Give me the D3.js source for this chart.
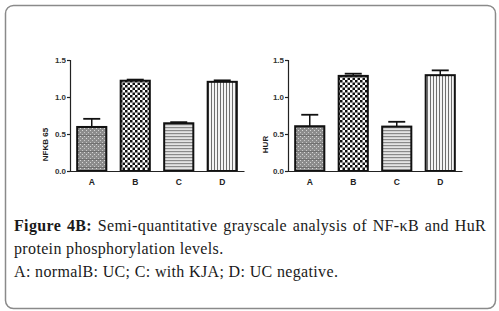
<!DOCTYPE html>
<html>
<head>
<meta charset="utf-8">
<script src="https://cdn.jsdelivr.net/npm/d3@7"></script>
<style>
  body { margin: 0; background: #fff; }
  svg { display: block; }
</style>
</head>
<body>
<div id="chart"></div>
<script>
// Data
const categories = ["A", "B", "C", "D"];
const nfkbMean = [0.595, 1.22, 0.645, 1.205];
const nfkbErr = [0.11, 0.015, 0.015, 0.02];
const hurMean = [0.605, 1.285, 0.6, 1.295];
const hurErr = [0.155, 0.03, 0.065, 0.065];
const yTicks = [0, 0.5, 1.0, 1.5];
const patterns = ["patA", "patB", "patC", "patD"];

const captionBold = "Figure 4B:";
const captionLine1 = " Semi-quantitative grayscale analysis of NF-\u03baB and HuR";
const captionLine2 = "protein phosphorylation levels.";
const captionLine3 = "A: normalB: UC; C: with KJA; D: UC negative.";

const width = 499, height = 311;

const svg = d3.select("#chart").append("svg")
    .attr("width", width)
    .attr("height", height);

// Fill patterns (Prism style hatches)
const defs = svg.append("defs");

// A: gray with fine dots and horizontal bands
const pA = defs.append("pattern").attr("id", "patA")
    .attr("patternUnits", "userSpaceOnUse").attr("width", 4).attr("height", 8);
pA.append("rect").attr("width", 4).attr("height", 8).attr("fill", "#8c8c8c");
pA.append("rect").attr("x", 0).attr("y", 0).attr("width", 1).attr("height", 1).attr("fill", "#d8d8d8");
pA.append("rect").attr("x", 2).attr("y", 2).attr("width", 1).attr("height", 1).attr("fill", "#d8d8d8");
pA.append("rect").attr("x", 0).attr("y", 4).attr("width", 1).attr("height", 1).attr("fill", "#c8c8c8");
pA.append("rect").attr("x", 2).attr("y", 6).attr("width", 1).attr("height", 1).attr("fill", "#c8c8c8");
pA.append("rect").attr("x", 0).attr("y", 7).attr("width", 4).attr("height", 1).attr("fill", "#707070");

// B: black/white checkerboard
const pB = defs.append("pattern").attr("id", "patB")
    .attr("patternUnits", "userSpaceOnUse").attr("width", 5).attr("height", 5);
pB.append("rect").attr("width", 5).attr("height", 5).attr("fill", "#fff");
pB.append("rect").attr("width", 2.5).attr("height", 2.5).attr("fill", "#111");
pB.append("rect").attr("x", 2.5).attr("y", 2.5).attr("width", 2.5).attr("height", 2.5).attr("fill", "#111");

// C: horizontal lines
const pC = defs.append("pattern").attr("id", "patC")
    .attr("patternUnits", "userSpaceOnUse").attr("width", 4).attr("height", 3);
pC.append("rect").attr("width", 4).attr("height", 3).attr("fill", "#e4e4e4");
pC.append("rect").attr("y", 1).attr("width", 4).attr("height", 1.2).attr("fill", "#8a8a8a");

// D: vertical lines
const pD = defs.append("pattern").attr("id", "patD")
    .attr("patternUnits", "userSpaceOnUse").attr("width", 3).attr("height", 4);
pD.append("rect").attr("width", 3).attr("height", 4).attr("fill", "#f4f4f4");
pD.append("rect").attr("x", 1).attr("width", 1).attr("height", 4).attr("fill", "#6e6e6e");

// Outer rounded frame
svg.append("rect")
    .attr("x", 5.5).attr("y", 5.5)
    .attr("width", 490).attr("height", 303)
    .attr("rx", 8).attr("ry", 8)
    .attr("fill", "#fff")
    .attr("stroke", "#8a8a8a")
    .attr("stroke-width", 1.5);

function drawPanel({ left, top, bottom, label, labelX, means, errs }) {
    const x = d3.scaleBand()
        .domain(categories)
        .range([left, left + 174])
        .paddingInner(0.33)
        .paddingOuter(0.165);

    const y = d3.scaleLinear()
        .domain([0, 1.5])
        .range([bottom, top]);

    const g = svg.append("g");

    const data = categories.map((c, i) => ({ cat: c, mean: means[i], err: errs[i], pat: patterns[i] }));

    // Error bars (only the upper half is visible above the bar)
    const eb = g.selectAll(".err").data(data).enter().append("g").attr("class", "err");
    const capW = 17;
    eb.append("line")
        .attr("x1", d => x(d.cat) + x.bandwidth() / 2)
        .attr("x2", d => x(d.cat) + x.bandwidth() / 2)
        .attr("y1", d => y(d.mean))
        .attr("y2", d => y(d.mean + d.err))
        .attr("stroke", "#111")
        .attr("stroke-width", 1.5);
    eb.append("line")
        .attr("x1", d => x(d.cat) + x.bandwidth() / 2 - capW / 2)
        .attr("x2", d => x(d.cat) + x.bandwidth() / 2 + capW / 2)
        .attr("y1", d => y(d.mean + d.err))
        .attr("y2", d => y(d.mean + d.err))
        .attr("stroke", "#111")
        .attr("stroke-width", 1.8);

    // Bars
    g.selectAll(".bar").data(data).enter().append("rect")
        .attr("class", "bar")
        .attr("x", d => x(d.cat))
        .attr("width", x.bandwidth())
        .attr("y", d => y(d.mean))
        .attr("height", d => y(0) - y(d.mean))
        .attr("fill", d => `url(#${d.pat})`)
        .attr("stroke", "#111")
        .attr("stroke-width", 2);

    // Y axis
    const yAxis = g.append("g")
        .attr("transform", `translate(${left},0)`)
        .call(d3.axisLeft(y).tickValues(yTicks).tickFormat(d3.format(".1f")).tickSize(3).tickPadding(1));
    yAxis.select(".domain").attr("stroke", "#222").attr("stroke-width", 1.2);
    yAxis.selectAll(".tick line").attr("stroke", "#222").attr("stroke-width", 1.2);
    yAxis.selectAll(".tick text")
        .attr("font-family", "Liberation Sans, Arial, sans-serif")
        .attr("font-size", 8)
        .attr("font-weight", "bold")
        .attr("fill", "#333");

    // X axis (no ticks)
    const xAxis = g.append("g")
        .attr("transform", `translate(0,${bottom})`)
        .call(d3.axisBottom(x).tickSize(0).tickPadding(8));
    xAxis.select(".domain").attr("stroke", "#222").attr("stroke-width", 1.2);
    xAxis.selectAll(".tick text")
        .attr("font-family", "Liberation Sans, Arial, sans-serif")
        .attr("font-size", 8.5)
        .attr("font-weight", "bold")
        .attr("fill", "#222");

    // Y label
    g.append("text")
        .attr("transform", `translate(${labelX},${(top + bottom) / 2 + 29})rotate(-90)`)
        .attr("text-anchor", "middle")
        .attr("font-family", "Liberation Sans, Arial, sans-serif")
        .attr("font-size", 8)
        .attr("font-weight", "bold")
        .attr("fill", "#222")
        .text(label);
}

drawPanel({ left: 70, top: 60, bottom: 171, label: "NFKB 65", labelX: 48, means: nfkbMean, errs: nfkbErr });
drawPanel({ left: 288, top: 60, bottom: 171, label: "HUR", labelX: 268, means: hurMean, errs: hurErr });

// Caption
const capFont = "Liberation Serif, Times New Roman, serif";
const capX = 14, capRight = 486;
const cap = svg.append("g")
    .attr("font-family", capFont)
    .attr("font-size", 16)
    .attr("letter-spacing", 0.35)
    .attr("fill", "#1a1a1a");

const line1 = cap.append("text").attr("x", capX).attr("y", 231);
line1.append("tspan").attr("font-weight", "bold").text(captionBold);
line1.append("tspan").text(captionLine1);
// justify the first line across the caption width
const natural = line1.node().getComputedTextLength();
const gaps = (captionBold + captionLine1).split(" ").length - 1;
line1.attr("word-spacing", Math.max(0, (capRight - capX - natural) / gaps));

cap.append("text").attr("x", capX).attr("y", 254).text(captionLine2);
cap.append("text").attr("x", capX).attr("y", 277).text(captionLine3);
</script>
</body>
</html>
